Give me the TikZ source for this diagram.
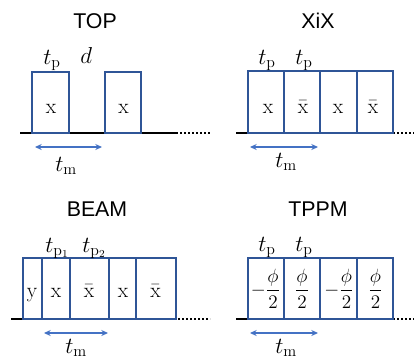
\documentclass[tikz,border=0pt]{standalone}
\usepackage{fontspec}
\newfontfamily\titlefont{Liberation Sans}
\usetikzlibrary{arrows.meta}
\definecolor{pulseblue}{HTML}{2F5597}
\definecolor{arrowblue}{HTML}{4472C4}
\tikzset{
  x=0.75pt, y=-0.75pt,
  pulse/.style={draw=pulseblue, line width=1.1pt},
  baseline/.style={draw=black, line width=1.9pt},
  trail/.style={draw=black, line width=1.2pt, dash pattern=on 1.2pt off 1.8pt},
  span/.style={draw=arrowblue, line width=0.9pt, {Stealth[length=5pt,width=4.5pt]}-{Stealth[length=5pt,width=4.5pt]}},
  ttl/.style={font=\titlefont\fontsize{16}{19}\selectfont, inner sep=0pt, anchor=base},
  lbl/.style={font=\fontsize{17}{20}\selectfont, inner sep=0pt, anchor=base west},
  inbox/.style={font=\fontsize{16}{19}\selectfont, inner sep=0pt, anchor=base},
  frac/.style={font=\fontsize{15}{18}\selectfont, inner sep=0pt, anchor=base},
}
\begin{document}
\begin{tikzpicture}
\useasboundingbox (0,0) rectangle (414,358);

% ---------- TOP ----------
\node[ttl] (topT) at (95,28) {TOP};
\draw[baseline] (20,133) coordinate (topA) -- (176,133) coordinate (topB);
\draw[trail] (topB) -- (210,133) coordinate (topC);
\draw[pulse, fill=white] (32,72) rectangle (69,133);
\draw[pulse, fill=white] (105,72) rectangle (141,133);
\node[inbox] (top1) at (51,113) {$\mathrm{x}$};
\node[inbox] (top2) at (123.5,113) {$\mathrm{x}$};
\node[lbl] (toptp) at (43,64) {$t_{\mathrm{p}}$};
\node[lbl] (topd) at (80,63) {$d$};
\coordinate (topL) at (35,147);
\coordinate (topR) at (102,147);
\draw[span] (topL) -- (topR);
\node[lbl] (toptm) at (55,171) {$t_{\mathrm{m}}$};

% ---------- XiX ----------
\node[ttl] (xixT) at (318,28) {XiX};
\draw[baseline] (236,133) coordinate (xixA) -- (248,133) coordinate (xixB);
\draw[trail] (393,133) coordinate (xixC) -- (414,133) coordinate (xixD);
\draw[pulse] (248,71) rectangle (284,133);
\draw[pulse] (284,71) rectangle (320,133);
\draw[pulse] (320,71) rectangle (357,133);
\draw[pulse] (357,71) rectangle (393,133);
\node[inbox] (xix1) at (268,113) {$\mathrm{x}$};
\node[inbox] (xix2) at (303,113) {$\bar{\mathrm{x}}$};
\node[inbox] (xix3) at (338,113) {$\mathrm{x}$};
\node[inbox] (xix4) at (373,113) {$\bar{\mathrm{x}}$};
\node[lbl] (xixtp1) at (258,64) {$t_{\mathrm{p}}$};
\node[lbl] (xixtp2) at (295,64) {$t_{\mathrm{p}}$};
\coordinate (xixL) at (250,147);
\coordinate (xixR) at (318,147);
\draw[span] (xixL) -- (xixR);
\node[lbl] (xixtm) at (275,167) {$t_{\mathrm{m}}$};

% ---------- BEAM ----------
\node[ttl] (beamT) at (97,216) {BEAM};
\draw[baseline] (11,319) coordinate (beamA) -- (176,319) coordinate (beamB);
\draw[trail] (178,319) coordinate (beamC) -- (210,319) coordinate (beamD);
\draw[pulse, fill=white] (23,258) rectangle (42,319);
\draw[pulse, fill=white] (42,258) rectangle (70,319);
\draw[pulse, fill=white] (70,258) rectangle (109,319);
\draw[pulse, fill=white] (109,258) rectangle (136,319);
\draw[pulse, fill=white] (136,258) rectangle (176,319);
\node[inbox] (beam0) at (32,297) {$\mathrm{y}$};
\node[inbox] (beam1) at (56,297) {$\mathrm{x}$};
\node[inbox] (beam2) at (89,297) {$\bar{\mathrm{x}}$};
\node[inbox] (beam3) at (123,297) {$\mathrm{x}$};
\node[inbox] (beam4) at (155.5,297) {$\bar{\mathrm{x}}$};
\node[lbl] (beamtp1) at (45,252) {$t_{\mathrm{p}_1}$};
\node[lbl] (beamtp2) at (82,252) {$t_{\mathrm{p}_2}$};
\coordinate (beamL) at (44,333);
\coordinate (beamR) at (108,333);
\draw[span] (beamL) -- (beamR);
\node[lbl] (beamtm) at (65,353) {$t_{\mathrm{m}}$};

% ---------- TPPM ----------
\node[ttl] (tppmT) at (318,216) {TPPM};
\draw[baseline] (236,319) coordinate (tppmA) -- (248,319) coordinate (tppmB);
\draw[trail] (393,319) coordinate (tppmC) -- (414,319) coordinate (tppmD);
\draw[pulse] (248,258) rectangle (284,319);
\draw[pulse] (284,258) rectangle (320,319);
\draw[pulse] (320,258) rectangle (357,319);
\draw[pulse] (357,258) rectangle (393,319);
\node[frac] (tppm1) at (265.5,295) {$\displaystyle-\frac{\phi}{2}$};
\node[frac] (tppm2) at (302,295) {$\displaystyle\frac{\phi}{2}$};
\node[frac] (tppm3) at (339,295) {$\displaystyle-\frac{\phi}{2}$};
\node[frac] (tppm4) at (375.5,295) {$\displaystyle\frac{\phi}{2}$};
\node[lbl] (tppmtp1) at (258,251) {$t_{\mathrm{p}}$};
\node[lbl] (tppmtp2) at (295,251) {$t_{\mathrm{p}}$};
\coordinate (tppmL) at (250,333);
\coordinate (tppmR) at (318,333);
\draw[span] (tppmL) -- (tppmR);
\node[lbl] (tppmtm) at (275,353) {$t_{\mathrm{m}}$};
\end{tikzpicture}
\end{document}
